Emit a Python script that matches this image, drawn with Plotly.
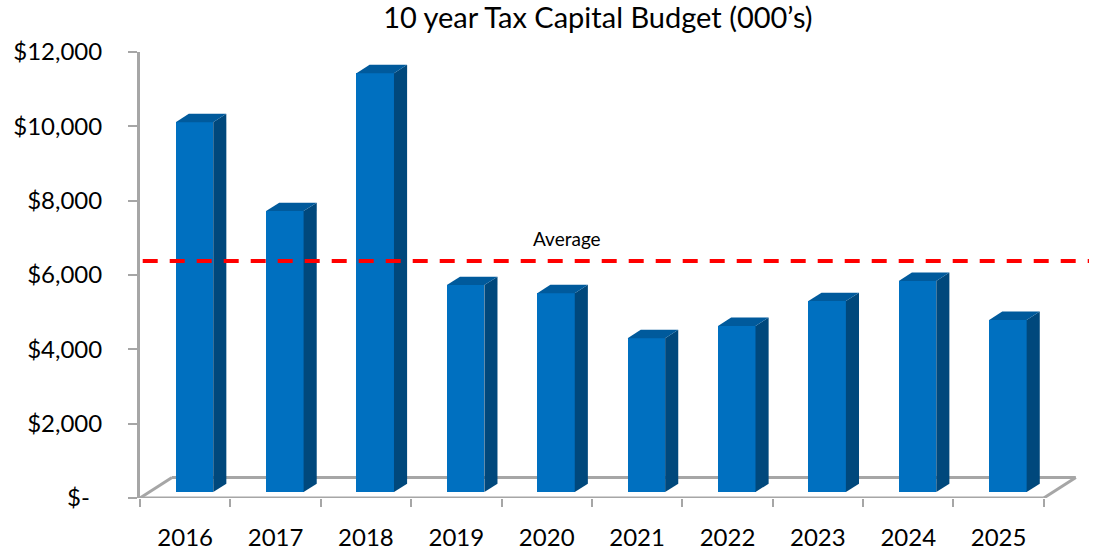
import plotly.graph_objects as go

# Capital budget by year, in thousands of dollars
years = ["2016", "2017", "2018", "2019", "2020", "2021", "2022", "2023", "2024", "2025"]
budget = [9950, 7560, 11270, 5570, 5350, 4140, 4470, 5140, 5680, 4630]

y_tickvals = [0, 2000, 4000, 6000, 8000, 10000, 12000]
y_ticktext = ["$-\u00a0\u00a0", "$2,000", "$4,000", "$6,000", "$8,000", "$10,000", "$12,000"]

FONT = "Lato"
GREY = "#a6a6a6"
FRONT = "#0070c0"
SIDE = "#00487c"
TOP = "#005a9c"

# Oblique projection of the depth axis (floor depth in axis units)
DEPTH_X = 0.354   # category units
DEPTH_Y = 551     # value units
F0, F1 = 0.29, 0.70   # front / back depth fraction of each bar
BAR_W = 0.415

n = len(years)
x_front = [i + F0 * DEPTH_X for i in range(n)]
base = F0 * DEPTH_Y
dx = (F1 - F0) * DEPTH_X
dy = (F1 - F0) * DEPTH_Y

fig = go.Figure()

# front faces
fig.add_trace(go.Bar(
    x=x_front, y=budget, base=base, width=BAR_W,
    marker=dict(color=FRONT, line=dict(width=0)),
    hoverinfo="skip", showlegend=False,
))

# side and top faces of each bar
for xc, v in zip(x_front, budget):
    xl, xr = xc - BAR_W / 2, xc + BAR_W / 2
    top = base + v
    fig.add_trace(go.Scatter(
        x=[xr, xr + dx, xr + dx, xr, xr],
        y=[base, base + dy, top + dy, top, base],
        fill="toself", fillcolor=SIDE, mode="lines",
        line=dict(width=0, color=SIDE), hoverinfo="skip", showlegend=False,
    ))
    fig.add_trace(go.Scatter(
        x=[xl, xl + dx, xr + dx, xr, xl],
        y=[top, top + dy, top + dy, top, top],
        fill="toself", fillcolor=TOP, mode="lines",
        line=dict(width=0, color=TOP), hoverinfo="skip", showlegend=False,
    ))

# average line
avg = sum(budget) / len(budget)
fig.add_trace(go.Scatter(
    x=[-0.47, 10.0], y=[avg, avg], mode="lines",
    line=dict(color="#ff0000", width=4, dash="15px,12px"),
    hoverinfo="skip", showlegend=False,
))
fig.add_annotation(
    x=4.22, y=avg, xref="x", yref="y", text="Average", showarrow=False,
    yanchor="bottom", yshift=9, font=dict(family=FONT, size=19, color="black"),
)

# floor outline
x0, x1 = -0.5, n - 0.5
floor = [
    (x0, 0, x1, 0),
    (x0, 0, x0 + DEPTH_X, DEPTH_Y),
    (x1, 0, x1 + DEPTH_X, DEPTH_Y),
    (x0 + DEPTH_X, DEPTH_Y, x1 + DEPTH_X, DEPTH_Y),
]
for a, b, c, d in floor:
    fig.add_shape(type="line", x0=a, y0=b, x1=c, y1=d, xref="x", yref="y",
                  line=dict(color=GREY, width=3), layer="below")

fig.update_layout(
    width=1101, height=551,
    margin=dict(l=140, r=12, t=52, b=53, autoexpand=False),
    plot_bgcolor="white", paper_bgcolor="white",
    title=dict(text="10 year Tax Capital Budget (000\u2019s)", x=0.543, xref="container",
               xanchor="center", y=0.967, yref="container", yanchor="middle",
               font=dict(family=FONT, size=29, color="black"), automargin=False),
    xaxis=dict(
        range=[-0.5, 10.0], tickmode="array", tickvals=list(range(n)), ticktext=years,
        ticks="", showline=False, showgrid=False, zeroline=False, automargin=False,
        tickfont=dict(family=FONT, size=24, color="black"), ticklabelstandoff=23,
        minor=dict(tickmode="array", tickvals=[i - 0.5 for i in range(n + 1)],
                   ticks="outside", ticklen=8, tickwidth=2, tickcolor=GREY, showgrid=False),
    ),
    yaxis=dict(
        range=[0, 12000], tickmode="array", tickvals=y_tickvals, ticktext=y_ticktext,
        ticks="outside", ticklen=9, tickwidth=2, tickcolor=GREY, automargin=False,
        showline=True, linewidth=3, linecolor=GREY, showgrid=False, zeroline=False,
        tickfont=dict(family=FONT, size=24, color="black"), ticklabelstandoff=21,
    ),
    bargap=0,
)

fig.write_html("out.html")
